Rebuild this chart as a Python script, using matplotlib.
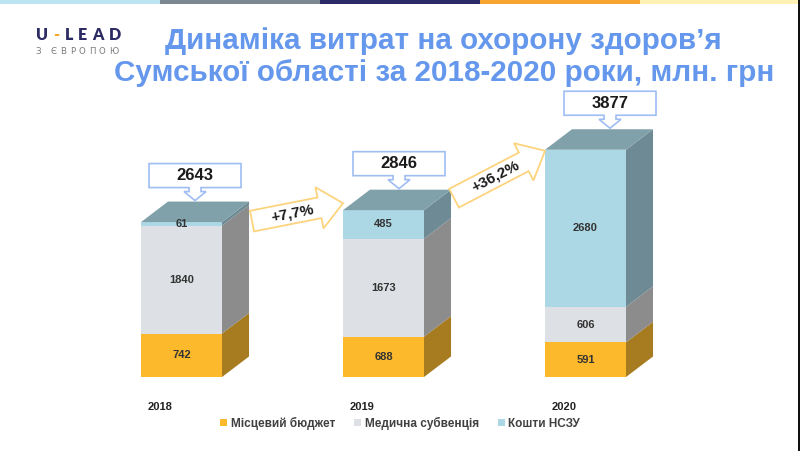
import numpy as np
import matplotlib
matplotlib.use('Agg')
import matplotlib.pyplot as plt
from matplotlib.patches import Polygon, Rectangle

# --- data ---
years = ['2018', '2019', '2020']
local_budget = [742, 688, 591]      # Місцевий бюджет
med_subvention = [1840, 1673, 606]  # Медична субвенція
nszu_funds = [61, 485, 2680]        # Кошти НСЗУ
series_names = ['Місцевий бюджет', 'Медична субвенція', 'Кошти НСЗУ']

title_lines = ['Динаміка витрат на охорону здоров’я',
               'Сумської області за 2018-2020 роки, млн. грн']

# --- styling ---
front_cols = ['#fdb92c', '#dde0e4', '#acd8e6']
side_cols = ['#a77b1f', '#8c8c8c', '#6e8a94']
top_col = '#80a1aa'
W, H = 800, 451
plt.rcParams['font.family'] = ['Liberation Sans', 'DejaVu Sans']

series = [local_budget, med_subvention, nszu_funds]
totals = np.sum(series, axis=0)
x = np.arange(len(years))
bar_w = 0.401
dx, dy = 0.1337, 350  # depth of the fake 3D box in data units

fig = plt.figure(figsize=(W / 100, H / 100), dpi=100)
fig.patch.set_facecolor('white')
renderer = fig.canvas.get_renderer()

# overlay in pixel coords for decorations
ov = fig.add_axes([0, 0, 1, 1], zorder=3)
ov.set_xlim(0, W)
ov.set_ylim(H, 0)
ov.axis('off')

ax = fig.add_axes([100 / W, (H - 377) / H, 600 / W, 277 / H], zorder=2)
ax.set_xlim(-0.4035, 2.5668)
ax.set_ylim(0, 4726)
ax.axis('off')


def to_px(px_x, px_y):
    X, Y = ax.transData.transform((px_x, px_y))
    return X, H - Y


def spaced_text(x0, y0, s, gap, colors=None, **kw):
    # write letters one by one with extra tracking
    xc = x0
    for k, ch in enumerate(s):
        c = colors[k] if colors else kw.get('color')
        kw2 = dict(kw)
        kw2['color'] = c
        t = ov.text(xc, y0, ch, ha='left', va='center', **kw2)
        wdt = t.get_window_extent(renderer).width
        xc += wdt + gap


# --- 3D stacked bars ---
bottoms = np.zeros(len(years))
handles = []
for vals, fc, sc, name in zip(series, front_cols, side_cols, series_names):
    vals = np.array(vals)
    bars = ax.bar(x, vals, bar_w, bottom=bottoms, color=fc, label=name,
                  linewidth=0, zorder=2)
    handles.append(bars)
    for xi, b, v in zip(x, bottoms, vals):
        x1 = xi + bar_w / 2
        side = Polygon([(x1, b), (x1 + dx, b + dy), (x1 + dx, b + v + dy), (x1, b + v)],
                       closed=True, facecolor=sc, edgecolor='none', zorder=1)
        ax.add_patch(side)
        ax.text(xi, b + v / 2, str(v), ha='center', va='center', fontsize=8,
                fontweight='bold', color='#333333', zorder=4)
    bottoms = bottoms + vals

for xi, t in zip(x, totals):
    x0, x1 = xi - bar_w / 2, xi + bar_w / 2
    top = Polygon([(x0, t), (x0 + dx, t + dy), (x1 + dx, t + dy), (x1, t)],
                  closed=True, facecolor=top_col, edgecolor='none', zorder=3)
    ax.add_patch(top)

# year labels under each bar
for xi, yr in zip(x, years):
    ax.annotate(yr, xy=(xi - bar_w / 2, 0), xytext=(5, -21.5), textcoords='offset points',
                ha='left', va='center', fontsize=8, fontweight='bold', color='#222222')

# --- callout boxes with totals ---
callout_shift = [0, 2, 11]
for xi, t, sh in zip(x, totals, callout_shift):
    cx, ty = to_px(xi + dx / 2, t + dy)
    cx += sh
    ty -= 1
    bw, bh = 92, 24
    pts = [(cx - bw / 2, ty - 13 - bh), (cx + bw / 2, ty - 13 - bh), (cx + bw / 2, ty - 13),
           (cx + 6, ty - 13), (cx + 6, ty - 9), (cx + 11, ty - 9), (cx, ty),
           (cx - 11, ty - 9), (cx - 6, ty - 9), (cx - 6, ty - 13), (cx - bw / 2, ty - 13)]
    ov.add_patch(Polygon(pts, closed=True, facecolor='white', edgecolor='#9fbdf3', lw=1.2))
    ov.text(cx, ty - 13 - bh / 2, str(t), ha='center', va='center', fontsize=12,
            fontweight='bold', color='#1a1a1a')

# --- growth arrows between bars ---
arrow_nudge = [(-1, -7), (-12, 1)]
for i, (n_tail, n_tip) in enumerate(arrow_nudge):
    growth = (totals[i + 1] / totals[i] - 1) * 100
    label = ('+%.1f%%' % growth).replace('.', ',')
    tx, tyy = to_px(x[i] + bar_w / 2 + dx, totals[i])
    tx += 3
    tyy += n_tail
    px, py = to_px(x[i + 1] - bar_w / 2, totals[i + 1])
    py += n_tip
    L = np.hypot(px - tx, py - tyy)
    d = np.array([px - tx, py - tyy]) / L
    n = np.array([-d[1], d[0]])
    h, Hh, hl = 10.5, 21, 24
    local = [(0, -h), (L - hl, -h), (L - hl, -Hh), (L, 0), (L - hl, Hh), (L - hl, h), (0, h)]
    pts = [(tx + u * d[0] + v * n[0], tyy + u * d[1] + v * n[1]) for u, v in local]
    ov.add_patch(Polygon(pts, closed=True, facecolor='white', edgecolor='#fdd47e', lw=1.3))
    ang = np.degrees(np.arctan2(-d[1], d[0]))
    u = (L - hl) * 0.6
    ov.text(tx + u * d[0], tyy + u * d[1], label, rotation=ang, rotation_mode='anchor',
            ha='center', va='center', fontsize=11, fontweight='bold', color='#1a1a1a')

# --- legend ---
leg = ax.legend(handles=handles, loc='center', bbox_to_anchor=(0.5, 28 / H),
                bbox_transform=fig.transFigure, ncol=3, frameon=False,
                prop={'weight': 'bold', 'size': 8.5}, labelcolor='#404040',
                handlelength=0.6, handleheight=0.6, handletextpad=0.3, columnspacing=1.6)

# --- title ---
fig.text(443 / W, 1 - 49 / H, title_lines[0], ha='center', va='baseline', fontsize=21.3,
         fontweight='bold', color='#6598ec')
fig.text(444 / W, 1 - 81 / H, title_lines[1], ha='center', va='baseline', fontsize=21.3,
         fontweight='bold', color='#6598ec')

# --- logo ---
logo_cols = ['#2b2a62', '#f5a623', '#2b2a62', '#2b2a62', '#2b2a62', '#2b2a62']
spaced_text(36, 35, 'U-LEAD', 5.2, colors=logo_cols, fontsize=11.5, fontweight='heavy',
            family=['Lato', 'DejaVu Sans'])
spaced_text(35, 51, 'З ЄВРОПОЮ', 3.6, fontsize=6.2, family=['DejaVu Sans'], color='#7a7a7a')

# top colour stripe and right border of the slide
stripe = ['#bde4f3', '#7b8891', '#2b2a66', '#f6a531', '#fdf2b3']
for k, c in enumerate(stripe):
    ov.add_patch(Rectangle((k * W / 5, 0), W / 5, 4, facecolor=c, edgecolor='none'))
ov.add_patch(Rectangle((W - 2.5, 0), 2.5, H, facecolor='#111111', edgecolor='none'))

plt.savefig('out.png', dpi=100)
